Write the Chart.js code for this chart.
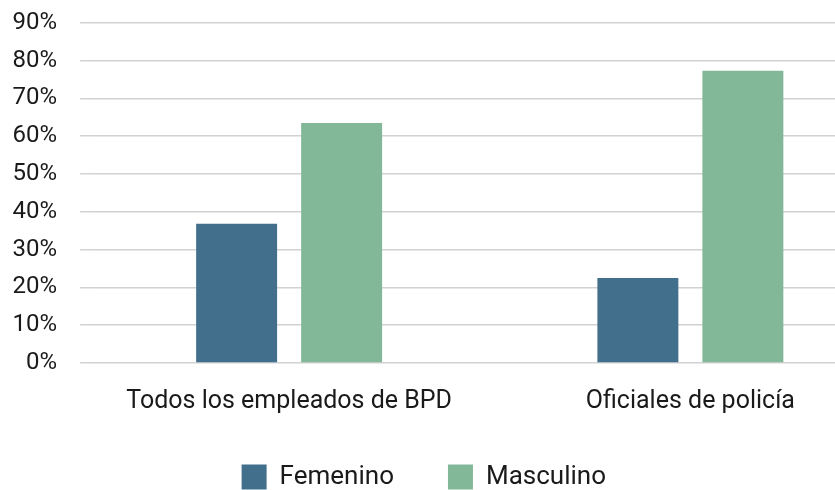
<!DOCTYPE html>
<html>
<head>
<meta charset="utf-8">
<script src="https://cdn.jsdelivr.net/npm/chart.js@4/dist/chart.umd.min.js"></script>
<style>
  html, body { margin: 0; padding: 0; background: #ffffff; overflow: hidden; }
  #wrap { width: 835px; height: 490px; overflow: hidden; position: relative; }
  #c { position: absolute; left: 0; top: 0; }
</style>
</head>
<body>
<div id="wrap"><canvas id="c" width="891" height="500"></canvas></div>
<script>
const categories = ['Todos los empleados de BPD', 'Oficiales de policía'];
const seriesNames = ['Femenino', 'Masculino'];
const femenino = [36.8, 22.5];
const masculino = [63.5, 77.3];
const yTickValues = [0, 10, 20, 30, 40, 50, 60, 70, 80, 90];

const FONT = 'Roboto, "Liberation Sans", sans-serif';
const TEXT = '#1a1a1a';

const layoutTweaks = {
  id: 'layoutTweaks',
  afterLayout(chart) {
    const l = chart.legend;
    if (l) { l.left -= 21.7; l.right -= 21.7; }
    // let the x labels' descenders extend below the (compact) x-axis box
    const x = chart.scales.x;
    if (x) { x.bottom += 20; }
  }
};

new Chart(document.getElementById('c'), {
  type: 'bar',
  data: {
    labels: categories,
    datasets: [
      { label: seriesNames[0], data: femenino, backgroundColor: '#416f8c', borderWidth: 0 },
      { label: seriesNames[1], data: masculino, backgroundColor: '#82b898', borderWidth: 0 }
    ]
  },
  plugins: [layoutTweaks],
  options: {
    responsive: false,
    animation: false,
    events: [],
    layout: { padding: { left: 0, top: 22.7, right: 0, bottom: 0 } },
    datasets: {
      bar: { categoryPercentage: 0.5234, barPercentage: 0.771 }
    },
    plugins: {
      tooltip: { enabled: false },
      legend: {
        position: 'bottom',
        labels: {
          boxWidth: 25,
          boxHeight: 25,
          padding: 54,
          color: TEXT,
          font: { family: FONT, size: 26 }
        }
      }
    },
    scales: {
      x: {
        afterFit: (scale) => { scale.height = 47; },
        grid: { display: false, drawTicks: false },
        border: { display: false },
        ticks: {
          padding: 24,
          maxRotation: 0,
          autoSkip: false,
          color: TEXT,
          font: { family: FONT, size: 25 }
        }
      },
      y: {
        min: 0,
        max: 90,
        afterBuildTicks: (scale) => { scale.ticks = yTickValues.map(v => ({ value: v })); },
        afterFit: (scale) => {
          scale.width = 88.5;
          scale.paddingTop = 0;
          scale.paddingBottom = 0;
        },
        grid: { color: '#d2d2d2', lineWidth: 1.5, drawTicks: true, tickLength: 8.5 },
        border: { display: false },
        ticks: {
          padding: 23,
          color: TEXT,
          font: { family: FONT, size: 24 },
          callback: (v) => v + '%'
        }
      }
    }
  }
});
</script>
</body>
</html>
